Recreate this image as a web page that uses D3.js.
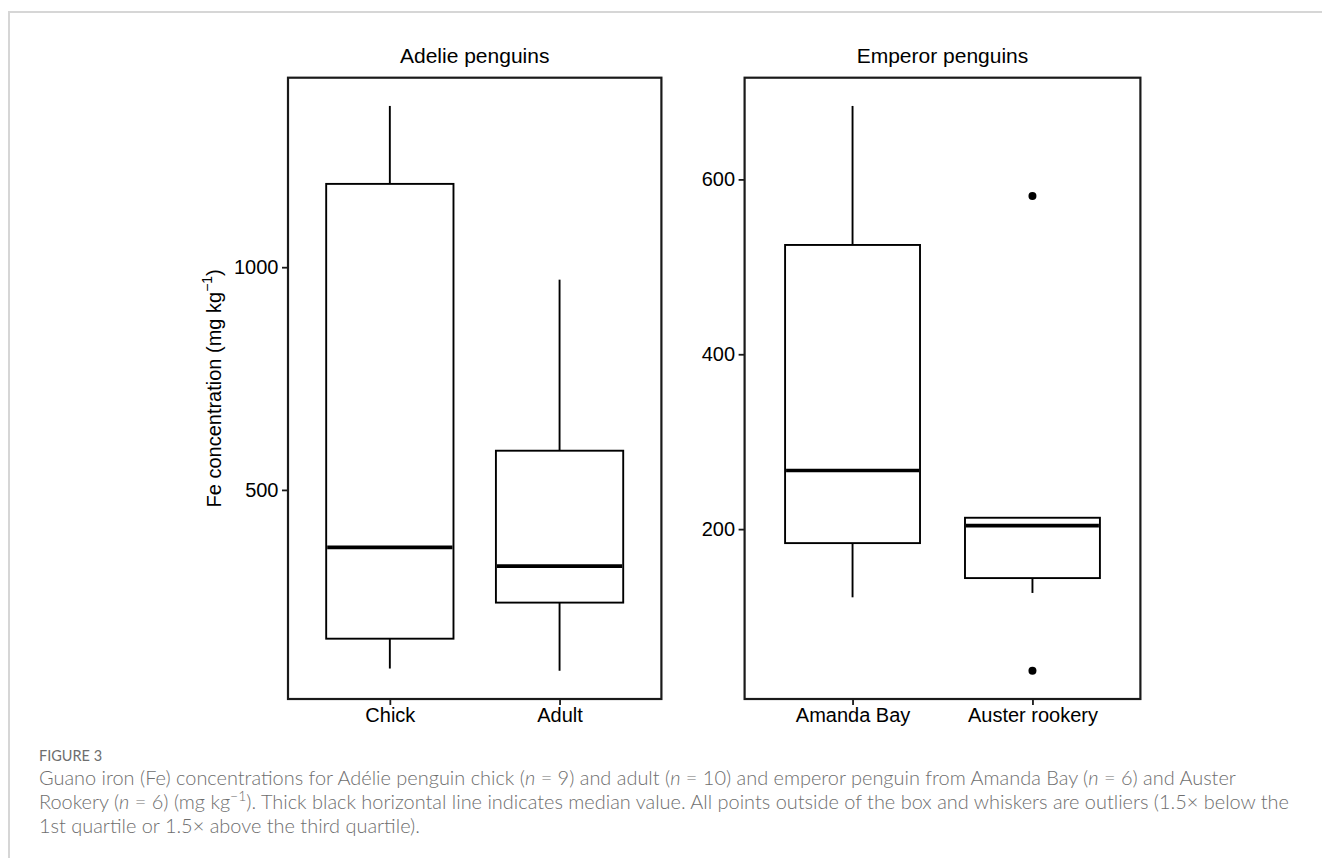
<!DOCTYPE html>
<html>
<head>
<meta charset="utf-8">
<script src="https://cdn.jsdelivr.net/npm/d3@7"></script>
<style>
  html, body { margin: 0; padding: 0; background: #fff; }
  svg { display: block; }
</style>
</head>
<body>
<svg id="chart" width="1322" height="858"></svg>
<script>
// ---------------- DATA ----------------
const panelTitles = ["Adelie penguins", "Emperor penguins"];

const adelieCategories = ["Chick", "Adult"];
const adelieWhiskerLow  = [99, 94];
const adelieQ1          = [166, 247];
const adelieMedian      = [371, 329];
const adelieQ3          = [1187, 588];
const adelieWhiskerHigh = [1362, 972];
const adelieOutlierCategory = [];
const adelieOutlierValue    = [];
const adelieTicks = [500, 1000];

const emperorCategories = ["Amanda Bay", "Auster rookery"];
const emperorWhiskerLow  = [122, 127];
const emperorQ1          = [184, 144];
const emperorMedian      = [267, 204];
const emperorQ3          = [525, 213];
const emperorWhiskerHigh = [684, 213];
const emperorOutlierCategory = ["Auster rookery", "Auster rookery"];
const emperorOutlierValue    = [581, 38];
const emperorTicks = [200, 400, 600];

const yAxisLabel = "Fe concentration (mg kg";
const figureLabel = "FIGURE 3";

// ---------------- LAYOUT ----------------
const svg = d3.select("#chart");
const FONT = "'Liberation Sans', Arial, Helvetica, sans-serif";

// card border
svg.append("rect")
  .attr("x", 9).attr("y", 12).attr("width", 1400).attr("height", 1000)
  .attr("fill", "none").attr("stroke", "#d6d6d6").attr("stroke-width", 2);

const panelTop = 77.7, panelBottom = 699;

function buildPanel(cfg) {
  const cats = cfg.categories;
  const rows = cats.map((c, i) => ({
    cat: c, lo: cfg.lo[i], q1: cfg.q1[i], med: cfg.med[i], q3: cfg.q3[i], hi: cfg.hi[i]
  }));
  const outliers = cfg.outCat.map((c, i) => ({ cat: c, v: cfg.outVal[i] }));
  const allVals = rows.flatMap(r => [r.lo, r.hi]).concat(outliers.map(o => o.v));
  const mn = d3.min(allVals), mx = d3.max(allVals);
  const pad = (mx - mn) * 0.05;

  const x = d3.scalePoint().domain(cats).range([cfg.x0, cfg.x1]).padding(0.6);
  const y = d3.scaleLinear().domain([mn - pad, mx + pad]).range([panelBottom, panelTop]);
  const bw = x.step() * 0.75;

  const g = svg.append("g");

  // title
  g.append("text")
    .attr("x", (cfg.x0 + cfg.x1) / 2).attr("y", 63.3)
    .attr("text-anchor", "middle")
    .attr("font-family", FONT).attr("font-size", 21).attr("fill", "#000")
    .text(cfg.title);

  // whiskers
  g.selectAll(".wh").data(rows).join("line")
    .attr("x1", d => x(d.cat)).attr("x2", d => x(d.cat))
    .attr("y1", d => y(d.q3)).attr("y2", d => y(d.hi))
    .attr("stroke", "#000").attr("stroke-width", 1.9);
  g.selectAll(".wl").data(rows).join("line")
    .attr("x1", d => x(d.cat)).attr("x2", d => x(d.cat))
    .attr("y1", d => y(d.q1)).attr("y2", d => y(d.lo))
    .attr("stroke", "#000").attr("stroke-width", 1.9);

  // boxes
  g.selectAll(".box").data(rows).join("rect")
    .attr("x", d => x(d.cat) - bw / 2).attr("width", bw)
    .attr("y", d => y(d.q3)).attr("height", d => y(d.q1) - y(d.q3))
    .attr("fill", "#fff").attr("stroke", "#000").attr("stroke-width", 1.9);

  // medians
  g.selectAll(".med").data(rows).join("line")
    .attr("x1", d => x(d.cat) - bw / 2 + 1).attr("x2", d => x(d.cat) + bw / 2 - 1)
    .attr("y1", d => y(d.med)).attr("y2", d => y(d.med))
    .attr("stroke", "#000").attr("stroke-width", 3.6);

  // outliers
  g.selectAll(".out").data(outliers).join("circle")
    .attr("cx", d => x(d.cat)).attr("cy", d => y(d.v)).attr("r", 4)
    .attr("fill", "#000");

  // frame
  g.append("rect")
    .attr("x", cfg.x0).attr("y", panelTop)
    .attr("width", cfg.x1 - cfg.x0).attr("height", panelBottom - panelTop)
    .attr("fill", "none").attr("stroke", "#1a1a1a").attr("stroke-width", 2.2);

  // y axis
  const ya = g.append("g").attr("transform", `translate(${cfg.x0},0)`)
    .call(d3.axisLeft(y).tickValues(cfg.ticks).tickSize(6).tickPadding(3.5).tickFormat(d3.format("d")));
  ya.select(".domain").remove();
  ya.selectAll("line").attr("stroke", "#1a1a1a").attr("stroke-width", 1.8);
  ya.selectAll("text").attr("font-family", FONT).attr("font-size", 20).attr("fill", "#000");

  // x axis
  const xa = g.append("g").attr("transform", `translate(0,${panelBottom})`)
    .call(d3.axisBottom(x).tickSize(6).tickPadding(3));
  xa.select(".domain").remove();
  xa.selectAll("line").attr("stroke", "#1a1a1a").attr("stroke-width", 1.8);
  xa.selectAll("text").attr("font-family", FONT).attr("font-size", 20).attr("fill", "#000")
    .attr("dy", "0").attr("y", 23);
}

buildPanel({
  title: panelTitles[0], categories: adelieCategories,
  lo: adelieWhiskerLow, q1: adelieQ1, med: adelieMedian, q3: adelieQ3, hi: adelieWhiskerHigh,
  outCat: adelieOutlierCategory, outVal: adelieOutlierValue, ticks: adelieTicks,
  x0: 288, x1: 661.4
});
buildPanel({
  title: panelTitles[1], categories: emperorCategories,
  lo: emperorWhiskerLow, q1: emperorQ1, med: emperorMedian, q3: emperorQ3, hi: emperorWhiskerHigh,
  outCat: emperorOutlierCategory, outVal: emperorOutlierValue, ticks: emperorTicks,
  x0: 744.6, x1: 1140.4
});

// y axis title
const yl = svg.append("text")
  .attr("transform", `translate(221,${(panelTop + panelBottom) / 2}) rotate(-90)`)
  .attr("text-anchor", "middle")
  .attr("font-family", FONT).attr("font-size", 20).attr("fill", "#000");
yl.append("tspan").text(yAxisLabel);
yl.append("tspan").attr("font-size", 14).attr("dy", -9).text("\u22121");
yl.append("tspan").attr("dy", 9).text(")");

// ---------------- CAPTION ----------------
const CAPFONT = "Lato, 'Open Sans', 'Noto Sans', sans-serif";
const capColor = "#6e6e6e";
svg.append("text")
  .attr("x", 39).attr("y", 760.7)
  .attr("font-family", CAPFONT).attr("font-size", 14.5).attr("fill", capColor)
  .text(figureLabel);

const captionLines = [
  [["Guano iron (Fe) concentrations for Adélie penguin chick (", ""], ["n", "i"], [" = 9) and adult (", ""], ["n", "i"],
   [" = 10) and emperor penguin from Amanda Bay (", ""], ["n", "i"], [" = 6) and Auster", ""]],
  [["Rookery (", ""], ["n", "i"], [" = 6) (mg kg", ""], ["\u22121", "s"],
   ["). Thick black horizontal line indicates median value. All points outside of the box and whiskers are outliers (1.5\u00d7 below the", "after"]],
  [["1st quartile or 1.5\u00d7 above the third quartile).", ""]]
];
const capBaselines = [785, 809.3, 833.3];
const capNodes = captionLines.map((parts, li) => {
  const t = svg.append("text")
    .attr("font-family", CAPFONT).attr("font-weight", 300)
    .attr("font-size", 16).attr("fill", capColor);
  parts.forEach(([s, k], pi) => {
    const sp = t.append("tspan").text(s);
    if (pi === 0) sp.attr("x", 39).attr("y", capBaselines[li]);
    if (k === "i") sp.attr("font-style", "italic");
    else if (k === "s") sp.attr("font-size", "0.7em").attr("baseline-shift", "super");
  });
  return t;
});
// fit caption size so the first line spans the measured width
const w1 = capNodes[0].node().getComputedTextLength();
const fs = 16 * 1198 / w1;
capNodes.forEach(t => t.attr("font-size", fs));
</script>
</body>
</html>
